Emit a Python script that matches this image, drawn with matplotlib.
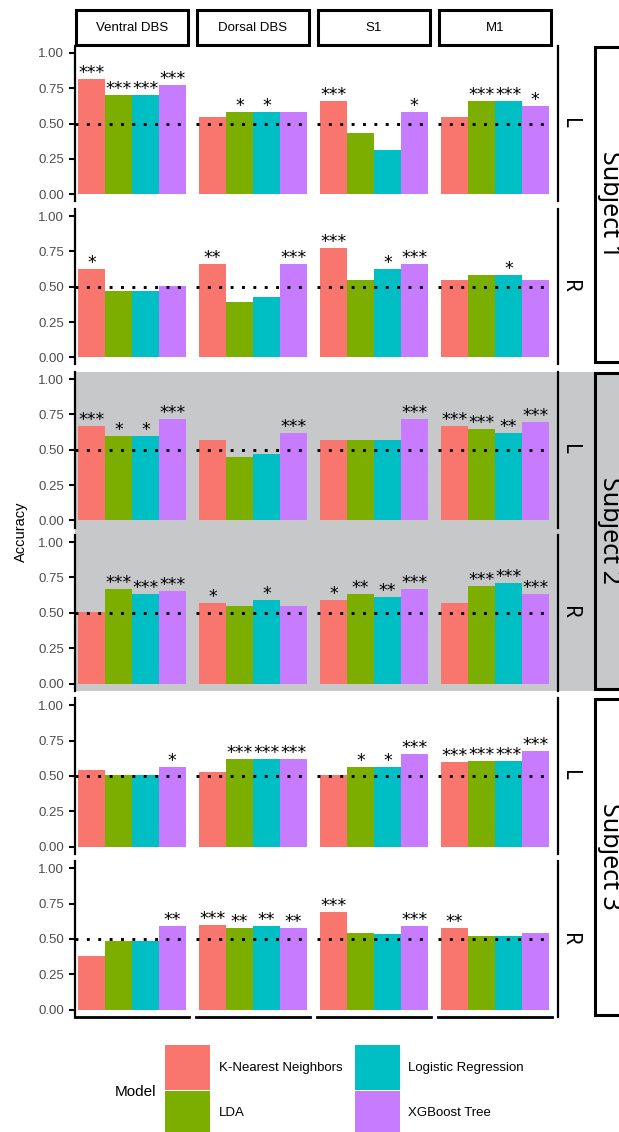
import matplotlib
matplotlib.use('Agg')
import matplotlib.pyplot as plt
from matplotlib.patches import Rectangle
from matplotlib.lines import Line2D
import numpy as np

plt.rcParams['font.family'] = ['Liberation Sans', 'DejaVu Sans']

# data
regions = ['Ventral DBS', 'Dorsal DBS', 'S1', 'M1']
models = ['K-Nearest Neighbors', 'LDA', 'Logistic Regression', 'XGBoost Tree']
subjects = ['Subject 1', 'Subject 2', 'Subject 3']
sides = ['L', 'R']
colors = ['#F8766D', '#7CAE00', '#00BFC4', '#C77CFF']

# accuracy[region][model]
acc_s1_L = [[0.815, 0.700, 0.700, 0.775], [0.547, 0.585, 0.585, 0.585],
            [0.662, 0.434, 0.317, 0.585], [0.547, 0.662, 0.662, 0.625]]
acc_s1_R = [[0.623, 0.469, 0.469, 0.507], [0.660, 0.391, 0.429, 0.660],
            [0.776, 0.547, 0.623, 0.660], [0.547, 0.582, 0.582, 0.547]]
acc_s2_L = [[0.670, 0.594, 0.594, 0.717], [0.571, 0.451, 0.472, 0.620],
            [0.571, 0.571, 0.571, 0.717], [0.670, 0.644, 0.620, 0.694]]
acc_s2_R = [[0.509, 0.670, 0.630, 0.651], [0.571, 0.549, 0.590, 0.549],
            [0.590, 0.630, 0.611, 0.670], [0.571, 0.692, 0.713, 0.630]]
acc_s3_L = [[0.539, 0.506, 0.506, 0.562], [0.530, 0.617, 0.617, 0.617],
            [0.506, 0.562, 0.562, 0.652], [0.596, 0.605, 0.605, 0.674]]
acc_s3_R = [[0.376, 0.487, 0.487, 0.589], [0.598, 0.577, 0.589, 0.577],
            [0.688, 0.543, 0.532, 0.589], [0.577, 0.520, 0.520, 0.543]]

stars_s1_L = [['***', '***', '***', '***'], ['', '*', '*', ''],
              ['***', '', '', '*'], ['', '***', '***', '*']]
stars_s1_R = [['*', '', '', ''], ['**', '', '', '***'],
              ['***', '', '*', '***'], ['', '', '*', '']]
stars_s2_L = [['***', '*', '*', '***'], ['', '', '', '***'],
              ['', '', '', '***'], ['***', '***', '**', '***']]
stars_s2_R = [['', '***', '***', '***'], ['*', '', '*', ''],
              ['*', '**', '**', '***'], ['', '***', '***', '***']]
stars_s3_L = [['', '', '', '*'], ['', '***', '***', '***'],
              ['', '*', '*', '***'], ['***', '***', '***', '***']]
stars_s3_R = [['', '', '', '**'], ['***', '**', '**', '**'],
              ['***', '', '', '***'], ['**', '', '', '']]

rows_acc = [acc_s1_L, acc_s1_R, acc_s2_L, acc_s2_R, acc_s3_L, acc_s3_R]
rows_stars = [stars_s1_L, stars_s1_R, stars_s2_L, stars_s2_R, stars_s3_L, stars_s3_R]

W, H = 619, 1132
fig = plt.figure(figsize=(W / 100, H / 100), dpi=100)


def fx(x):
    return x / W


def fy(y):
    return 1 - y / H


# layout in pixels
col_left = [75 + 121 * c for c in range(4)]
col_w = 114
row_top = [45.9 + 163.06 * r for r in range(6)]
row_h = 155.5
grey = '#c7c8ca'

# grey block behind subject 2
fig.patches.append(Rectangle((fx(75), fy(row_top[3] + row_h)), fx(W + 5) - fx(75),
                             fy(row_top[2]) - fy(row_top[3] + row_h),
                             transform=fig.transFigure, facecolor=grey,
                             edgecolor='none', zorder=-1))

x = np.arange(4)
for r in range(6):
    for c in range(4):
        ax = fig.add_axes([fx(col_left[c]), fy(row_top[r] + row_h),
                           col_w / W, row_h / H])
        ax.set_facecolor('none')
        vals = rows_acc[r][c]
        ax.bar(x, vals, width=1.0, color=colors, edgecolor='none', zorder=2)
        ax.axhline(0.5, color='black', lw=2.1, linestyle=(0, (1, 2.9)),
                   dash_capstyle='butt', zorder=3)
        for i, s in enumerate(rows_stars[r][c]):
            if s:
                ax.annotate(s, (x[i], vals[i]), xytext=(0, 0.8),
                            textcoords='offset points', ha='center',
                            va='baseline', fontsize=12.5,
                            family='DejaVu Sans', zorder=4)
        ax.set_xlim(-0.62, 3.62)
        ax.set_ylim(-0.05, 1.05)
        ax.set_xticks([])
        for sp in ['top', 'right']:
            ax.spines[sp].set_visible(False)
        if c == 0:
            ax.spines['left'].set_linewidth(1.6)
            ax.set_yticks([0, 0.25, 0.5, 0.75, 1.0])
            ax.set_yticklabels(['0.00', '0.25', '0.50', '0.75', '1.00'])
            ax.tick_params(axis='y', length=4.3, width=1.5, pad=3.6,
                           labelsize=9.5, labelcolor='#4D4D4D')
        else:
            ax.spines['left'].set_visible(False)
            ax.set_yticks([])
        if r == 5:
            ax.spines['bottom'].set_linewidth(2.0)
        else:
            ax.spines['bottom'].set_visible(False)

        # L / R strip on right
        if c == 3:
            fig.lines.append(Line2D([fx(557.5), fx(557.5)],
                                    [fy(row_top[r]), fy(row_top[r] + row_h)],
                                    transform=fig.transFigure, color='black', lw=1.6))
            fig.text(fx(570), fy(row_top[r] + row_h / 2), sides[r % 2],
                     rotation=-90, ha='center', va='center', fontsize=15,
                     family='Noto Sans')

# top strips
for c in range(4):
    fig.patches.append(Rectangle((fx(col_left[c] + 1), fy(45)), 112 / W, 35 / H,
                                 transform=fig.transFigure, facecolor='white',
                                 edgecolor='black', lw=2.2))
    fig.text(fx(col_left[c] + 1 + 56), fy(28), regions[c], ha='center',
             va='center', fontsize=9.5)

# subject strips
for s in range(3):
    top = row_top[2 * s] + 1
    bot = row_top[2 * s + 1] + row_h - 2
    fc = grey if s == 1 else 'white'
    fig.patches.append(Rectangle((fx(595), fy(bot)), fx(60), (bot - top) / H,
                                 transform=fig.transFigure, facecolor=fc,
                                 edgecolor='black', lw=2.2))
    fig.text(fx(597), fy((top + bot) / 2), subjects[s], rotation=-90,
             ha='left', va='center', fontsize=18, family='Noto Sans')

fig.text(fx(21), fy((row_top[0] + row_top[5] + row_h) / 2), 'Accuracy',
         rotation=90, ha='center', va='center', fontsize=10.5)

# legend
fig.text(fx(135), fy(1091.5), 'Model', ha='center', va='center', fontsize=11)
key_x = [165, 165, 354.5, 354.5]
key_y = [1045, 1091, 1045, 1091]
lab_x = [219, 219, 408.5, 408.5]
for i in range(4):
    fig.patches.append(Rectangle((fx(key_x[i]), fy(key_y[i] + 45)), 45 / W, 45 / H,
                                 transform=fig.transFigure, facecolor=colors[i],
                                 edgecolor='none'))
    fig.text(fx(lab_x[i]), fy(key_y[i] + 22.5), models[i], ha='left',
             va='center', fontsize=9.5)

fig.savefig('out.png', dpi=100)
